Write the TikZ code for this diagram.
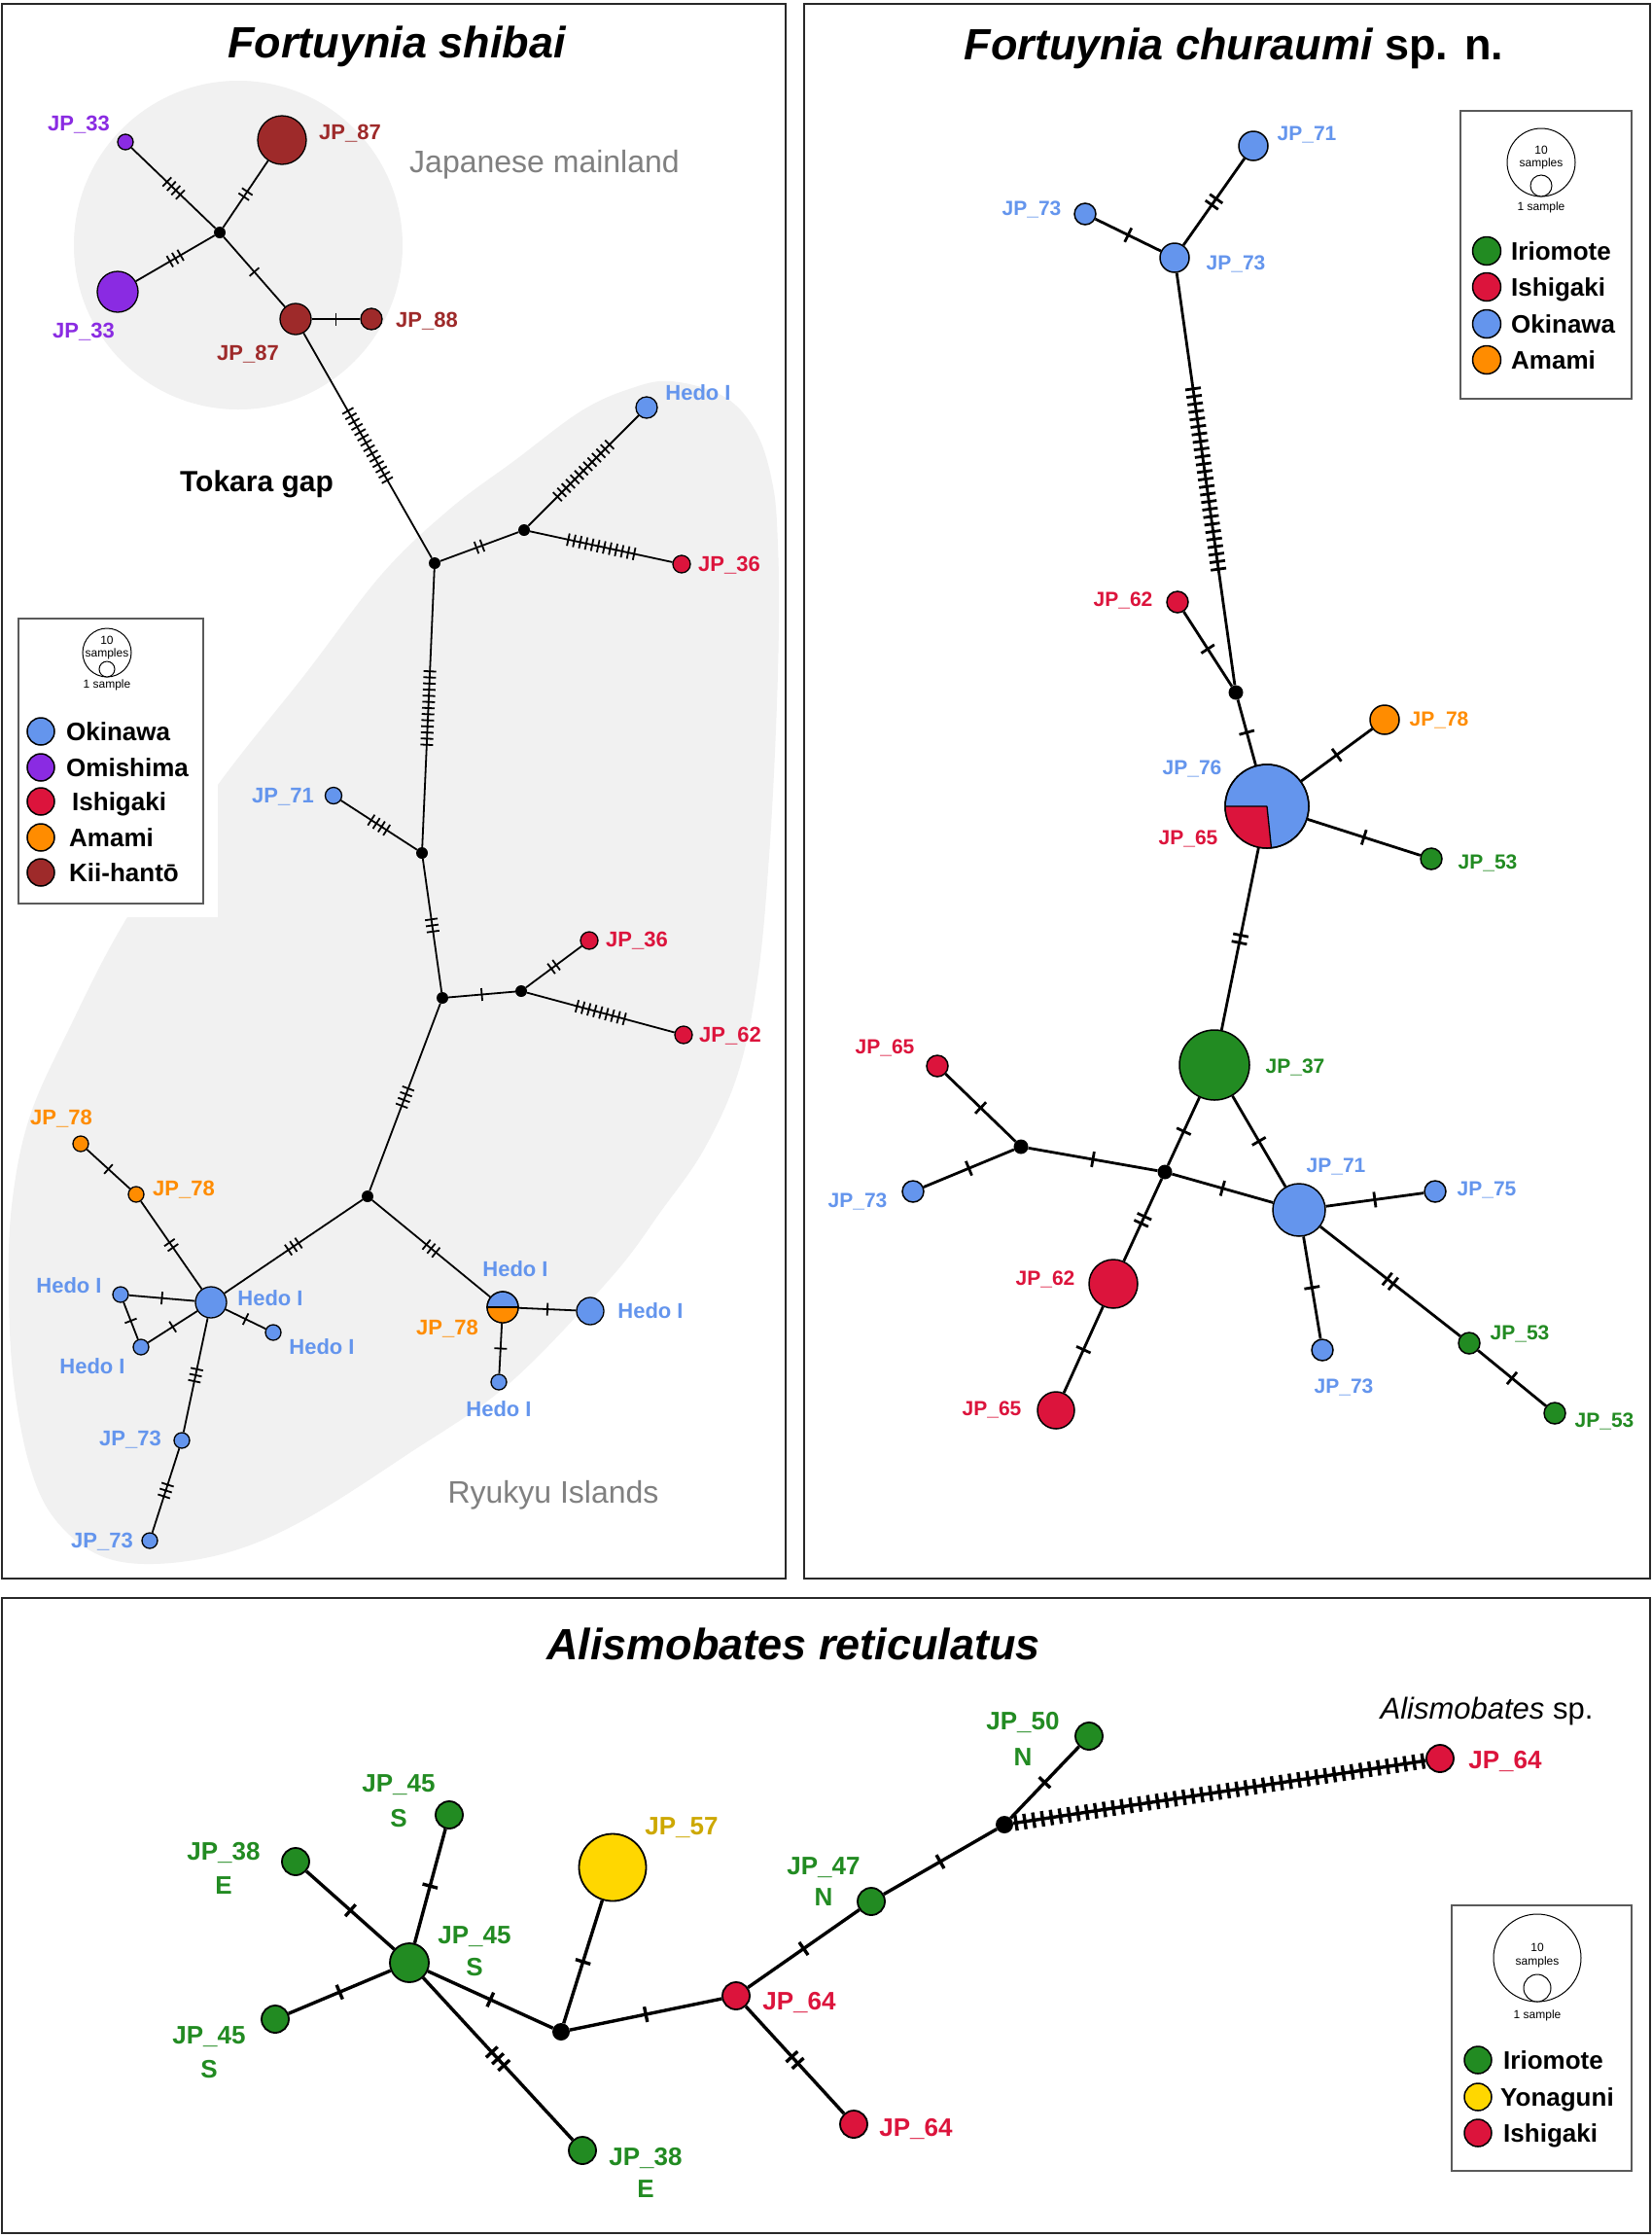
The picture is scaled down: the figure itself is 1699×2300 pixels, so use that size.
\documentclass[tikz,border=0pt]{standalone}
\usepackage{fontspec}
\setmainfont{Liberation Sans}
\usetikzlibrary{decorations.markings}
\definecolor{okin}{RGB}{100,149,237}
\definecolor{purp}{RGB}{138,43,226}
\definecolor{ishi}{RGB}{220,20,60}
\definecolor{amam}{RGB}{255,140,0}
\definecolor{kii}{RGB}{158,42,42}
\definecolor{irio}{RGB}{34,139,34}
\definecolor{yona}{RGB}{255,215,0}
\definecolor{yonalab}{RGB}{205,168,0}
\definecolor{regiongrey}{RGB}{241,241,241}
\definecolor{greytext}{RGB}{128,128,128}
\definecolor{frame}{RGB}{40,40,40}
\definecolor{legframe}{RGB}{90,90,90}
\begin{document}
\begin{tikzpicture}[x=1pt,y=-1pt,
  hap/.style={circle,draw=black,line width=1.3pt,inner sep=0pt,minimum size=#1},
  jdot/.style={circle,fill=black,inner sep=0pt,minimum size=#1},
  tk/.style n args={3}{postaction={decorate,decoration={markings,mark=at position 0.5 with {\foreach \k in {1,...,#1}{\draw ({(\k-(#1+1)/2)*#2},-#3) -- ({(\k-(#1+1)/2)*#2},#3);}}}}},
  ea/.style={line width=1.8pt,tk={#1}{6.3}{6.5}},
  eb/.style={line width=2.8pt,tk={#1}{7.8}{8}},
  ec/.style={line width=3.4pt,tk={#1}{9.2}{8}},
  la/.style={font=\bfseries\fontsize{22}{26}\selectfont,inner sep=0pt,text height=15.8pt,text depth=0pt},
  lb/.style={font=\bfseries\fontsize{21}{25}\selectfont,inner sep=0pt,text height=15pt,text depth=0pt},
  lc/.style={font=\bfseries\fontsize{26}{30}\selectfont,inner sep=0pt,text height=18.7pt,text depth=0pt},
  legt/.style={font=\bfseries\fontsize{26}{30}\selectfont,inner sep=0pt,anchor=west,text height=18.7pt,text depth=0pt},
  smallt/.style={font=\fontsize{12}{14}\selectfont,inner sep=0pt},
  ttl/.style={font=\bfseries\fontsize{45}{54}\selectfont,inner sep=0pt,text height=32pt,text depth=0pt},
  region/.style={font=\fontsize{32}{38}\selectfont,text=greytext,inner sep=0pt,text height=23pt,text depth=0pt},
  legbox/.style={draw=legframe,line width=1.2pt,fill=white},
  sizec/.style={circle,draw=black,line width=1pt,fill=white,inner sep=0pt,minimum size=#1},
  legc/.style={circle,draw=black,line width=1.5pt,inner sep=0pt,minimum size=#1}
]
\fill[white] (0,0) rectangle (1699,2300);
\useasboundingbox (0,0) rectangle (1699,2300);

% ---------- regions (panel 1) ----------
\fill[regiongrey] (245,252) circle[radius=169pt];
\fill[regiongrey] plot[smooth cycle,tension=0.6] coordinates {(690,392) (745,408) (778,445) (795,500) (800,560) (801,640) (798,750) (791,880) (780,1000) (760,1100) (725,1180) (680,1245) (628,1314) (523,1423) (418,1496) (314,1562) (235,1596) (157,1608) (100,1598) (55,1560) (30,1505) (14,1420) (9,1330) (12,1240) (30,1150) (70,1060) (131,943) (224,807) (314,693) (393,590) (463,523) (530,473) (597,423) (647,400)};
\fill[white] (4,600) rectangle (224,943);

% ---------- frames ----------
\draw[frame,line width=2pt] (2,4) rectangle (808,1623);
\draw[frame,line width=2pt] (827,4) rectangle (1697,1623);
\draw[frame,line width=2pt] (2,1643) rectangle (1697,2296);

% ---------- titles ----------
\node[ttl] (T1) at (408,43) {\itshape Fortuynia shibai};
\node[ttl] (T2) at (1269,45) {{\itshape Fortuynia churaumi} sp. n.};
\node[ttl] (T3) at (816,1690) {\itshape Alismobates reticulatus};

% ---------- panel 1 ----------
\node[region] (rJM) at (560,166) {Japanese mainland};
\node[region,text=black,font=\bfseries\fontsize{30}{36}\selectfont,text height=21.5pt] (rTG) at (264,495) {Tokara gap};
\node[region] (rRI) at (569,1534) {Ryukyu Islands};

\node[hap=16pt,fill=purp] (a33s) at (129,146) {};
\node[hap=50pt,fill=kii] (a87b) at (290,144) {};
\node[jdot=12pt] (a0) at (226,239) {};
\node[hap=42pt,fill=purp] (a33b) at (121,300) {};
\node[hap=32pt,fill=kii] (a87m) at (304,328) {};
\node[hap=22pt,fill=kii] (a88) at (382,328) {};
\node[jdot=12pt] (aA) at (447,579) {};
\node[jdot=12pt] (aB) at (539,545) {};
\node[hap=22pt,fill=okin] (aHt) at (665,419) {};
\node[hap=18pt,fill=ishi] (a36) at (701,580) {};
\node[jdot=12pt] (aC) at (434,877) {};
\node[hap=17pt,fill=okin] (a71) at (343,818) {};
\node[jdot=12pt] (aD) at (455,1026) {};
\node[jdot=12pt] (aE) at (536,1019) {};
\node[hap=18pt,fill=ishi] (a36b) at (606,967) {};
\node[hap=18pt,fill=ishi] (a62) at (703,1064) {};
\node[jdot=12pt] (aF) at (378,1230) {};
\node[hap=32pt,fill=okin] (aHb) at (217,1339) {};
\node[hap=32pt,fill=okin] (apie) at (517,1344) {};
\node[hap=28pt,fill=okin] (aHr) at (607,1348) {};
\node[hap=16pt,fill=okin] (aHd) at (513,1421) {};
\node[hap=16pt,fill=amam] (a78m) at (140,1228) {};
\node[hap=16pt,fill=amam] (a78t) at (83,1176) {};
\node[hap=16pt,fill=okin] (aHl) at (124,1331) {};
\node[hap=16pt,fill=okin] (aHll) at (145,1385) {};
\node[hap=16pt,fill=okin] (aHrl) at (281,1370) {};
\node[hap=16pt,fill=okin] (a73) at (187,1481) {};
\node[hap=16pt,fill=okin] (a73b) at (154,1584) {};
\fill[amam] ([xshift=16pt]apie.center) arc[start angle=0,end angle=-180,radius=16pt] -- cycle;
\draw[line width=1.3pt] (apie.west) -- (apie.east);
\draw[line width=1.3pt] (apie.center) circle[radius=16pt];

\draw[ea=4] (a0) -- (a33s);
\draw[ea=2] (a0) -- (a87b);
\draw[ea=3] (a0) -- (a33b);
\draw[ea=1] (a0) -- (a87m);
\draw[ea=1] (a87m) -- (a88);
\draw[ea=14] (a87m) -- (aA);
\draw[ea=2] (aA) -- (aB);
\draw[ea=13] (aB) -- (aHt);
\draw[ea=12] (aB) -- (a36);
\draw[ea=13] (aA) -- (aC);
\draw[ea=4] (aC) -- (a71);
\draw[ea=3] (aC) -- (aD);
\draw[ea=1] (aD) -- (aE);
\draw[ea=2] (aE) -- (a36b);
\draw[ea=9] (aE) -- (a62);
\draw[ea=4] (aD) -- (aF);
\draw[ea=3] (aF) -- (aHb);
\draw[ea=3] (aF) -- (apie);
\draw[ea=1] (apie) -- (aHr);
\draw[ea=1] (apie) -- (aHd);
\draw[ea=1] (a78t) -- (a78m);
\draw[ea=2] (a78m) -- (aHb);
\draw[ea=1] (aHb) -- (aHl);
\draw[ea=1] (aHl) -- (aHll);
\draw[ea=1] (aHb) -- (aHll);
\draw[ea=1] (aHb) -- (aHrl);
\draw[ea=3] (aHb) -- (a73);
\draw[ea=3] (a73) -- (a73b);

\node[la,text=purp] (la1) at (81,127) {JP\_33};
\node[la,text=kii] (la2) at (360,136) {JP\_87};
\node[la,text=purp] (la3) at (86,340) {JP\_33};
\node[la,text=kii] (la4) at (255,363) {JP\_87};
\node[la,text=kii] (la5) at (439,329) {JP\_88};
\node[la,text=okin] (la6) at (718,404) {Hedo I};
\node[la,text=ishi] (la7) at (750,580) {JP\_36};
\node[la,text=okin] (la8) at (291,818) {JP\_71};
\node[la,text=ishi] (la9) at (655,966) {JP\_36};
\node[la,text=ishi] (la10) at (751,1064) {JP\_62};
\node[la,text=amam] (la11) at (63,1149) {JP\_78};
\node[la,text=amam] (la12) at (189,1222) {JP\_78};
\node[la,text=okin] (la13) at (71,1322) {Hedo I};
\node[la,text=okin] (la14) at (278,1335) {Hedo I};
\node[la,text=okin] (la15) at (95,1405) {Hedo I};
\node[la,text=okin] (la16) at (331,1385) {Hedo I};
\node[la,text=okin] (la17) at (134,1479) {JP\_73};
\node[la,text=okin] (la18) at (105,1584) {JP\_73};
\node[la,text=okin] (la19) at (530,1305) {Hedo I};
\node[la,text=amam] (la20) at (460,1365) {JP\_78};
\node[la,text=okin] (la21) at (669,1348) {Hedo I};
\node[la,text=okin] (la22) at (513,1449) {Hedo I};

% legend panel 1
\draw[legbox] (19,636) rectangle (209,929);
\node[sizec=50pt] (g1big) at (110,671) {};
\node[sizec=16pt] (g1small) at (110,688) {};
\node[smallt] (g1t1) at (110,658) {10};
\node[smallt] (g1t2) at (110,672) {samples};
\node[smallt] (g1t3) at (110,704) {1 sample};
\node[legc=28pt,fill=okin] (g1c1) at (42,752) {};
\node[legc=28pt,fill=purp] (g1c2) at (42,789) {};
\node[legc=28pt,fill=ishi] (g1c3) at (42,824) {};
\node[legc=28pt,fill=amam] (g1c4) at (42,861) {};
\node[legc=28pt,fill=kii] (g1c5) at (42,897) {};
\node[legt] (g1l1) at (68,752) {Okinawa};
\node[legt] (g1l2) at (68,789) {Omishima};
\node[legt] (g1l3) at (74,824) {Ishigaki};
\node[legt] (g1l4) at (71,861) {Amami};
\node[legt] (g1l5) at (71,897) {Kii-hantō};

% ---------- panel 2 ----------
\begin{scope}[hap/.append style={line width=1.5pt}]
\node[hap=30pt,fill=okin] (b71t) at (1289,150) {};
\node[hap=22pt,fill=okin] (b73s) at (1116,220) {};
\node[hap=30pt,fill=okin] (b73) at (1208,265) {};
\node[jdot=15pt] (bJ) at (1271,712) {};
\node[hap=22pt,fill=ishi] (b62) at (1211,619) {};
\node[hap=86pt,fill=okin] (bpie) at (1303,829) {};
\node[hap=30pt,fill=amam] (b78) at (1424,740) {};
\node[hap=22pt,fill=irio] (b53) at (1472,883) {};
\node[hap=72pt,fill=irio] (b37) at (1249,1095) {};
\node[jdot=15pt] (bJ2) at (1198,1205) {};
\node[hap=54pt,fill=okin] (b71) at (1336,1244) {};
\node[jdot=15pt] (bJ3) at (1050,1179) {};
\node[hap=22pt,fill=ishi] (b65s) at (964,1096) {};
\node[hap=22pt,fill=okin] (b73l) at (939,1225) {};
\node[hap=50pt,fill=ishi] (b62b) at (1145,1320) {};
\node[hap=38pt,fill=ishi] (b65b) at (1086,1450) {};
\node[hap=22pt,fill=okin] (b75) at (1476,1225) {};
\node[hap=22pt,fill=okin] (b73d) at (1360,1388) {};
\node[hap=22pt,fill=irio] (b53m) at (1511,1381) {};
\node[hap=22pt,fill=irio] (b53b) at (1599,1453) {};
\end{scope}
\fill[ishi] (bpie.center) -- ++(180:43pt) arc[start angle=180,end angle=276,radius=43pt] -- cycle;
\draw[line width=1.3pt] (bpie.center) -- ++(180:43pt) (bpie.center) -- ++(276:43pt);
\draw[line width=1.5pt] (bpie.center) circle[radius=43pt];

\draw[eb=2] (b73) -- (b71t);
\draw[eb=1] (b73) -- (b73s);
\draw[eb=25] (b73) -- (bJ);
\draw[eb=1] (bJ) -- (b62);
\draw[eb=1] (bJ) -- (bpie);
\draw[eb=1] (bpie) -- (b78);
\draw[eb=1] (bpie) -- (b53);
\draw[eb=2] (bpie) -- (b37);
\draw[eb=1] (b37) -- (bJ2);
\draw[eb=1] (b37) -- (b71);
\draw[eb=1] (bJ2) -- (b71);
\draw[eb=1] (bJ2) -- (bJ3);
\draw[eb=1] (bJ3) -- (b65s);
\draw[eb=1] (bJ3) -- (b73l);
\draw[eb=2] (bJ2) -- (b62b);
\draw[eb=1] (b62b) -- (b65b);
\draw[eb=1] (b71) -- (b75);
\draw[eb=1] (b71) -- (b73d);
\draw[eb=2] (b71) -- (b53m);
\draw[eb=1] (b53m) -- (b53b);

\node[lb,text=okin] (lb1) at (1344,137) {JP\_71};
\node[lb,text=okin] (lb2) at (1061,214) {JP\_73};
\node[lb,text=okin] (lb3) at (1271,270) {JP\_73};
\node[lb,text=ishi] (lb4) at (1155,616) {JP\_62};
\node[lb,text=amam] (lb5) at (1480,739) {JP\_78};
\node[lb,text=okin] (lb6) at (1226,789) {JP\_76};
\node[lb,text=ishi] (lb7) at (1222,861) {JP\_65};
\node[lb,text=irio] (lb8) at (1530,886) {JP\_53};
\node[lb,text=irio] (lb9) at (1332,1096) {JP\_37};
\node[lb,text=ishi] (lb10) at (910,1076) {JP\_65};
\node[lb,text=okin] (lb11) at (882,1234) {JP\_73};
\node[lb,text=ishi] (lb12) at (1075,1314) {JP\_62};
\node[lb,text=ishi] (lb13) at (1020,1448) {JP\_65};
\node[lb,text=okin] (lb14) at (1374,1198) {JP\_71};
\node[lb,text=okin] (lb15) at (1529,1222) {JP\_75};
\node[lb,text=okin] (lb16) at (1382,1425) {JP\_73};
\node[lb,text=irio] (lb17) at (1563,1370) {JP\_53};
\node[lb,text=irio] (lb18) at (1650,1460) {JP\_53};

% legend panel 2
\draw[legbox] (1502,114) rectangle (1678,410);
\node[sizec=70pt] (g2big) at (1585,167) {};
\node[sizec=22pt] (g2small) at (1585,191) {};
\node[smallt] (g2t1) at (1585,154) {10};
\node[smallt] (g2t2) at (1585,168) {samples};
\node[smallt] (g2t3) at (1585,213) {1 sample};
\node[legc=29pt,fill=irio] (g2c1) at (1529,258) {};
\node[legc=29pt,fill=ishi] (g2c2) at (1529,295) {};
\node[legc=29pt,fill=okin] (g2c3) at (1529,333) {};
\node[legc=29pt,fill=amam] (g2c4) at (1529,370) {};
\node[legt] (g2l1) at (1554,258) {Iriomote};
\node[legt] (g2l2) at (1554,295) {Ishigaki};
\node[legt] (g2l3) at (1554,333) {Okinawa};
\node[legt] (g2l4) at (1554,370) {Amami};

% ---------- panel 3 ----------
\begin{scope}[hap/.append style={line width=1.8pt}]
\node[hap=28pt,fill=irio] (c45t) at (462,1866) {};
\node[hap=28pt,fill=irio] (c38t) at (304,1914) {};
\node[hap=40pt,fill=irio] (chub) at (421,2018) {};
\node[hap=28pt,fill=irio] (c45l) at (283,2076) {};
\node[hap=28pt,fill=irio] (c38b) at (599,2211) {};
\node[jdot=18pt] (cK) at (577,2089) {};
\node[hap=69pt,fill=yona] (c57) at (630,1920) {};
\node[hap=28pt,fill=ishi] (c64m) at (757,2052) {};
\node[hap=28pt,fill=irio] (c47) at (896,1955) {};
\node[jdot=18pt] (cL) at (1033,1876) {};
\node[hap=28pt,fill=irio] (c50) at (1120,1785) {};
\node[hap=28pt,fill=ishi] (c64f) at (1481,1808) {};
\node[hap=28pt,fill=ishi] (c64b) at (878,2184) {};
\end{scope}

\draw[ec=1] (chub) -- (c45t);
\draw[ec=1] (chub) -- (c38t);
\draw[ec=1] (chub) -- (c45l);
\draw[ec=1] (chub) -- (cK);
\draw[ec=3] (chub) -- (c38b);
\draw[ec=1] (cK) -- (c57);
\draw[ec=1] (cK) -- (c64m);
\draw[ec=1] (c64m) -- (c47);
\draw[ec=1] (c47) -- (cL);
\draw[ec=1] (cL) -- (c50);
\draw[ec=47] (cL) -- (c64f);
\draw[ec=2] (c64m) -- (c64b);

\node[lc,text=irio] (lc1) at (410,1833) {JP\_45};
\node[lc,text=irio] (lc1b) at (410,1869) {S};
\node[lc,text=irio] (lc2) at (230,1903) {JP\_38};
\node[lc,text=irio] (lc2b) at (230,1938) {E};
\node[lc,text=irio] (lc3) at (488,1989) {JP\_45};
\node[lc,text=irio] (lc3b) at (488,2022) {S};
\node[lc,text=irio] (lc4) at (215,2092) {JP\_45};
\node[lc,text=irio] (lc4b) at (215,2127) {S};
\node[lc,text=irio] (lc5) at (664,2217) {JP\_38};
\node[lc,text=irio] (lc5b) at (664,2250) {E};
\node[lc,text=yonalab] (lc6) at (701,1877) {JP\_57};
\node[lc,text=ishi] (lc7) at (822,2057) {JP\_64};
\node[lc,text=irio] (lc8) at (847,1918) {JP\_47};
\node[lc,text=irio] (lc8b) at (847,1950) {N};
\node[lc,text=irio] (lc9) at (1052,1769) {JP\_50};
\node[lc,text=irio] (lc9b) at (1052,1806) {N};
\node[lc,text=ishi] (lc10) at (1548,1809) {JP\_64};
\node[lc,text=ishi] (lc11) at (942,2187) {JP\_64};
\node[font=\fontsize{31}{36}\selectfont,inner sep=0pt,text height=22pt,text depth=0pt] (lc12) at (1529,1756) {{\itshape Alismobates} sp.};

% legend panel 3
\draw[legbox] (1493,1959) rectangle (1678,2232);
\node[sizec=90pt] (g3big) at (1581,2013) {};
\node[sizec=28pt] (g3small) at (1581,2044) {};
\node[smallt] (g3t1) at (1581,2002) {10};
\node[smallt] (g3t2) at (1581,2017) {samples};
\node[smallt] (g3t3) at (1581,2072) {1 sample};
\node[legc=28pt,fill=irio] (g3c1) at (1520,2118) {};
\node[legc=28pt,fill=yona] (g3c2) at (1520,2156) {};
\node[legc=28pt,fill=ishi] (g3c3) at (1520,2193) {};
\node[legt] (g3l1) at (1546,2118) {Iriomote};
\node[legt] (g3l2) at (1543,2156) {Yonaguni};
\node[legt] (g3l3) at (1546,2193) {Ishigaki};
\end{tikzpicture}
\end{document}
